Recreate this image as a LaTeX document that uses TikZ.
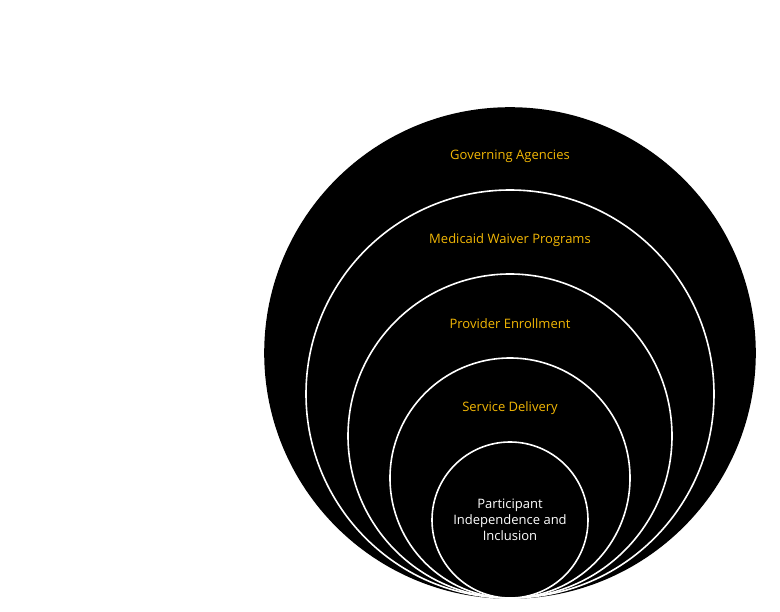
\documentclass[tikz,border=0pt]{standalone}
\usepackage{fontspec}
\setmainfont{Open Sans}
\definecolor{ringtext}{HTML}{F2B705}
\tikzset{
  ring/.style={circle, fill=black, draw=white, line width=1.6pt, inner sep=0pt},
  lbl/.style={text=ringtext, font=\fontsize{13}{16}\selectfont},
}
\begin{document}
\begin{tikzpicture}[x=1pt, y=-1pt]
        \useasboundingbox (0,0) rectangle (780,612);
        % Nested rings, all touching at the bottom
        \node[ring, draw=black, minimum size=490pt] (agency) at (510,353) {};
        \foreach \r/\n in {204/waiver,162/enrol,120/service,78/particip} {
            \node[ring, minimum size=2*\r pt] (\n) at (510,598-\r) {};
        }
        % Ring labels
        \node[lbl] (agencylbl) at (510,156) {Governing Agencies};
        \node[lbl] (waiverlbl) at (510,240) {Medicaid Waiver Programs};
        \node[lbl] (enrollbl) at (510,324) {Provider Enrollment};
        \node[lbl] (servicelbl) at (510,408) {Service Delivery};
        \node[lbl, text=white, align=center] (particlbl) at (particip) {Participant\\Independence and\\Inclusion};
\end{tikzpicture}
\end{document}
